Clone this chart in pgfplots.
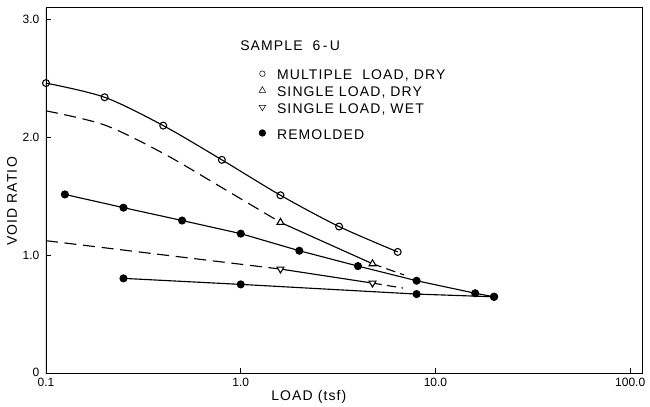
\documentclass[border=0pt]{standalone}
\usepackage{fontspec}
\setmainfont{Liberation Sans}
\newfontfamily\lett{Liberation Sans}[LetterSpace=8]
\usepackage{pgfplots}
\pgfplotsset{compat=1.18}
\newcommand\ls{\rule[-4pt]{0pt}{12.75pt}}
\begin{document}
\begin{tikzpicture}
\begin{axis}[
  at={(0,0)}, anchor=south west,
  scale only axis, width=447pt, height=274.5pt,
  xmode=log, xmin=0.1, xmax=115, ymin=0, ymax=3.1,
  xtick={0.1,1,10,100}, xticklabels={0.1,1.0,10.0,100.0},
  ytick={0,1,2,3}, yticklabels={\raisebox{2pt}{0},1.0,2.0,3.0},
  xminorticks=false, yminorticks=false,
  tick align=inside, tick pos=left, major tick length=4pt,
  tick style={line width=0.6pt, black},
  axis line style={line width=0.5pt},
  /pgf/number format/assume math mode=true,
  tick label style={font=\fontsize{9}{10}\selectfont},
  xticklabel style={yshift=0pt},
  yticklabel style={xshift=-1.5pt},
  xlabel={LOAD (tsf)}, ylabel={VOID RATIO},
  label style={font=\lett\fontsize{10.5}{12}\selectfont},
  xlabel style={at={(axis description cs:0.441,-0.063)}, anchor=center},
  ylabel style={at={(axis description cs:-0.057,0.47)}, anchor=center},
  legend style={at={(axis description cs:0.357,0.835)}, anchor=north west,
    draw=none, fill=none, inner sep=0pt, row sep=2.3pt, column sep=8.5pt,
    font=\lett\fontsize{10.5}{12}\selectfont, nodes={inner sep=0pt}},
  legend cell align=left,
  legend image code/.code={\draw[#1] plot coordinates {(0pt,1pt)};},
]
% legend entries
\addlegendimage{only marks, black, mark=o, mark size=2.1pt}
\addlegendentry{\ls MULTIPLE\ \ LOAD, DRY}
\addlegendimage{only marks, black, mark=triangle, mark size=2.8pt}
\addlegendentry{\ls SINGLE LOAD, DRY}
\addlegendimage{only marks, black, mark=triangle, mark size=2.8pt, mark options={rotate=180}}
\addlegendentry{\ls SINGLE LOAD, WET}
\addlegendimage{empty legend}
\addlegendentry{\rule{0pt}{3pt}}
\addlegendimage{only marks, black, mark=*, mark size=2.5pt}
\addlegendentry{\ls REMOLDED}

% multiple load, dry
\addplot[black, line width=0.85pt, smooth, tension=0.5, forget plot] coordinates
  {(0.1,2.46)(0.2,2.34)(0.4,2.10)(0.8,1.81)(1.6,1.51)(3.2,1.245)(6.4,1.03)};
% single load, dry
\addplot[black, line width=0.85pt, smooth, tension=0.5, dash pattern=on 9pt off 5pt, forget plot] coordinates
  {(0.1,2.225)(0.2,2.105)(0.4,1.865)(0.8,1.575)(1.6,1.28)};
\addplot[black, line width=0.85pt, forget plot] coordinates {(1.6,1.28)(4.75,0.93)};
\addplot[black, line width=0.85pt, dash pattern=on 7pt off 4pt, forget plot] coordinates {(4.75,0.93)(6.9,0.835)};
% single load, wet
\addplot[black, line width=0.85pt, dash pattern=on 9pt off 5pt, forget plot] coordinates {(0.1,1.125)(1.6,0.885)};
\addplot[black, line width=0.85pt, forget plot] coordinates {(1.6,0.885)(4.75,0.766)};
\addplot[black, line width=0.85pt, dash pattern=on 7pt off 4pt, forget plot] coordinates {(4.75,0.766)(6.8,0.724)};
% remolded
\addplot[black, line width=0.85pt, mark=*, mark size=2.6pt, forget plot] coordinates
  {(0.125,1.517)(0.25,1.405)(0.5,1.296)(1.0,1.185)(2.0,1.04)(4.0,0.91)(8.0,0.786)(16,0.68)(20,0.65)};
\addplot[black, line width=0.85pt, mark=*, mark size=2.6pt, forget plot] coordinates
  {(0.25,0.806)(1.0,0.755)(8.0,0.673)(20,0.65)};
% markers on top
\addplot[only marks, black, mark=o, mark size=2.6pt, mark options={fill=white, line width=0.8pt}, forget plot] coordinates
  {(0.1,2.46)(0.2,2.34)(0.4,2.10)(0.8,1.81)(1.6,1.51)(3.2,1.245)(6.4,1.03)};
\addplot[only marks, black, mark=triangle*, mark size=3pt, mark options={fill=white, line width=0.8pt}, forget plot] coordinates
  {(1.6,1.28)(4.75,0.93)};
\addplot[only marks, black, mark=triangle*, mark size=3pt, mark options={fill=white, line width=0.8pt, rotate=180}, forget plot] coordinates
  {(1.6,0.885)(4.75,0.766)};

\draw[line width=1.4pt] (rel axis cs:0,1) -- (rel axis cs:0,0) -- (rel axis cs:1,0);
\node[anchor=west, inner sep=0pt, font=\lett\fontsize{10.5}{12}\selectfont] at (axis description cs:0.3255,0.895) {SAMPLE\ \ 6\,-\,U};
\end{axis}
\pgfresetboundingbox
\path[use as bounding box] (-34.5pt,-25.1pt) rectangle (453pt,280.15pt);
\end{tikzpicture}
\end{document}
